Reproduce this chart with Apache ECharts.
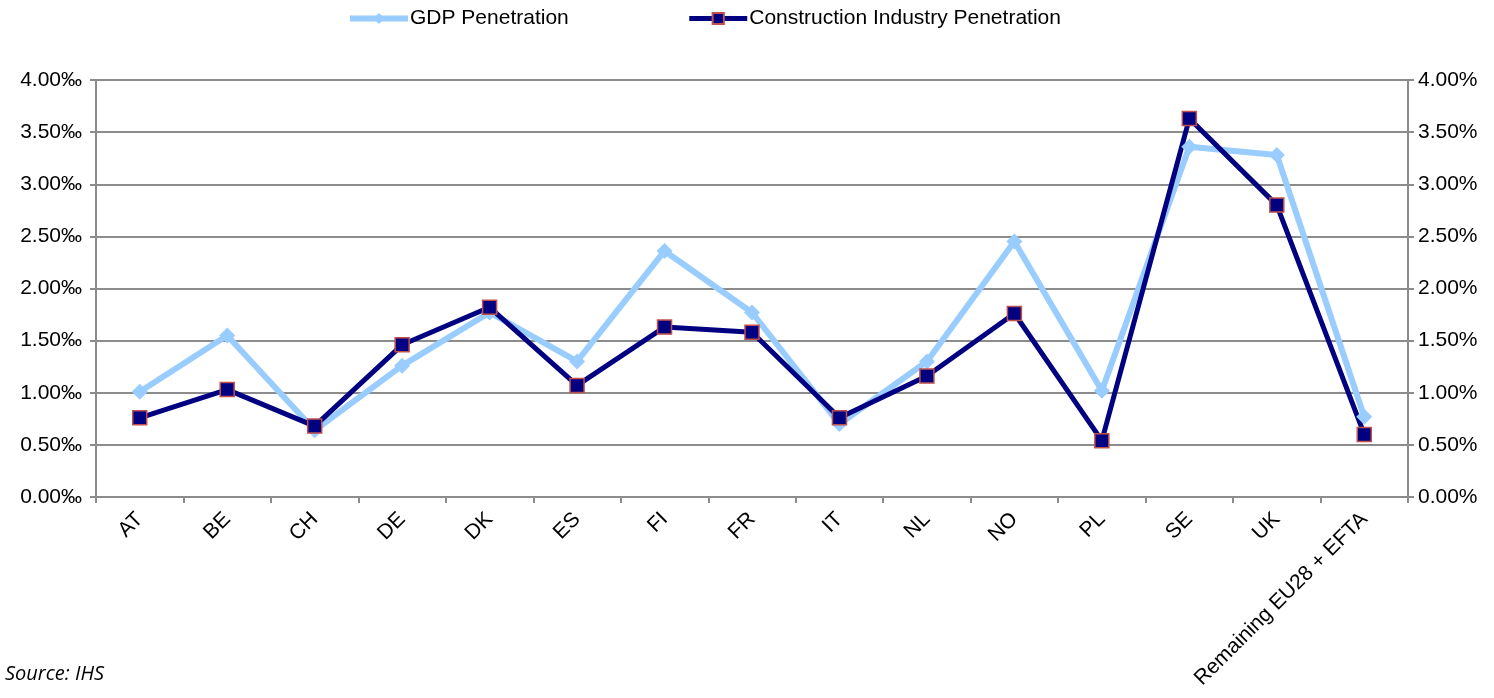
<!DOCTYPE html>
<html>
<head>
<meta charset="utf-8">
<script src="https://cdn.jsdelivr.net/npm/echarts@6/dist/echarts.min.js"></script>
<style>
  html, body { margin: 0; padding: 0; background: #fff; }
  #chart { width: 1494px; height: 698px; }
</style>
</head>
<body>
<div id="chart"></div>
<script>
// categories and values
const countries = ['AT', 'BE', 'CH', 'DE', 'DK', 'ES', 'FI', 'FR', 'IT', 'NL', 'NO', 'PL', 'SE', 'UK', 'Remaining EU28 + EFTA'];
// GDP penetration, per mille (left axis)
const gdpPenetration = [1.01, 1.55, 0.64, 1.26, 1.77, 1.30, 2.36, 1.77, 0.70, 1.30, 2.45, 1.02, 3.36, 3.28, 0.77];
// construction industry penetration, percent (right axis)
const constructionPenetration = [0.76, 1.03, 0.68, 1.46, 1.82, 1.07, 1.63, 1.58, 0.76, 1.16, 1.76, 0.54, 3.63, 2.80, 0.60];

const FONT = '"Liberation Sans", Arial, sans-serif';
const GRAY = '#8c8c8c';

const chart = echarts.init(document.getElementById('chart'));

const valueAxis = (pos, suffix, margin) => ({
  type: 'value', position: pos, min: 0, max: 4, interval: 0.5,
  axisLine: { show: true, lineStyle: { color: GRAY, width: 2 } },
  axisTick: { show: true, length: 6, lineStyle: { color: GRAY, width: 2 } },
  axisLabel: { formatter: v => v.toFixed(2) + suffix, color: '#000', fontSize: 21, fontFamily: FONT, margin: margin },
  splitLine: { show: pos === 'left', lineStyle: { color: GRAY, width: 2 } }
});

chart.setOption({
  animation: false,
  textStyle: { fontFamily: FONT },
  legend: {
    top: 3, left: 342, itemGap: 118, itemWidth: 58, itemHeight: 14,
    textStyle: { fontSize: 21, color: '#000', fontFamily: FONT, padding: [0, 0, 0, -3] },
    data: [
      { name: 'GDP Penetration', lineStyle: { width: 6 } },
      { name: 'Construction Industry Penetration', lineStyle: { width: 5 } }
    ]
  },
  graphic: [{
    type: 'text', left: 5, top: 664,
    style: { text: 'Source: IHS', font: 'italic 20px "Open Sans", sans-serif', fill: '#000' }
  }],
  grid: { left: 96, right: 86, top: 80, bottom: 201 },
  xAxis: {
    type: 'category', data: countries, boundaryGap: true,
    axisLine: { lineStyle: { color: GRAY, width: 2 } },
    axisTick: { show: true, length: 6, lineStyle: { color: GRAY, width: 2 } },
    axisLabel: { rotate: 45, interval: 0, color: '#000', fontSize: 21, fontFamily: FONT, margin: 19 }
  },
  yAxis: [valueAxis('left', '‰', 14), valueAxis('right', '%', 10)],
  series: [
    {
      name: 'GDP Penetration', type: 'line', yAxisIndex: 0, data: gdpPenetration,
      symbol: 'diamond', symbolSize: 16,
      lineStyle: { color: '#99ccff', width: 6 },
      itemStyle: { color: '#99ccff' }
    },
    {
      name: 'Construction Industry Penetration', type: 'line', yAxisIndex: 1, data: constructionPenetration,
      symbol: 'rect', symbolSize: 14,
      lineStyle: { color: '#000080', width: 5 },
      itemStyle: { color: '#000080', borderColor: '#c0504d', borderWidth: 1.5 }
    }
  ]
});
</script>
</body>
</html>
